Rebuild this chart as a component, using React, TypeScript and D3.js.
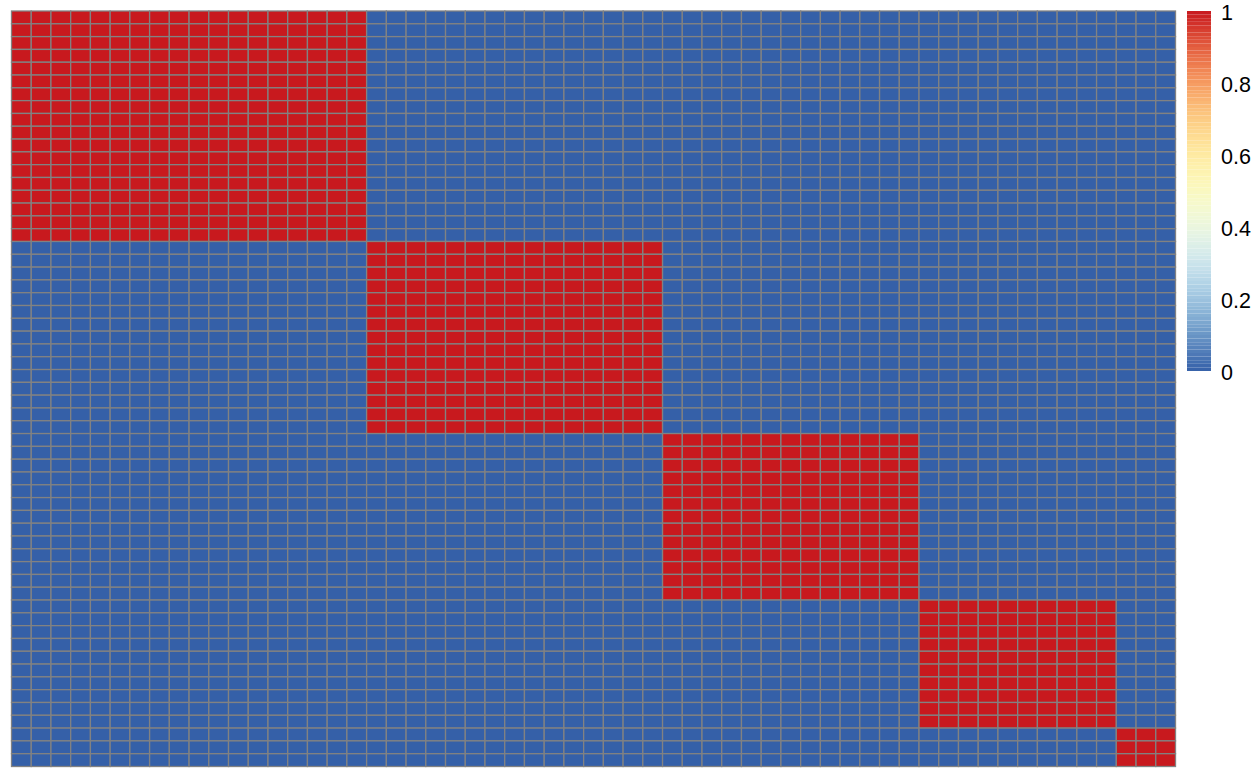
import React from "react";
import * as d3 from "d3";

// Cluster membership of each row / column (value = 1 when row and column share a cluster)
const rowClusters = [
  1,1,1,1,1,1,1,1,1,1,1,1,1,1,1,1,1,1,
  2,2,2,2,2,2,2,2,2,2,2,2,2,2,2,
  3,3,3,3,3,3,3,3,3,3,3,3,3,
  4,4,4,4,4,4,4,4,4,4,
  5,5,5,
];
const colClusters = [
  1,1,1,1,1,1,1,1,1,1,1,1,1,1,1,1,1,1,
  2,2,2,2,2,2,2,2,2,2,2,2,2,2,2,
  3,3,3,3,3,3,3,3,3,3,3,3,3,
  4,4,4,4,4,4,4,4,4,4,
  5,5,5,
];
const legendTicks = [0, 0.2, 0.4, 0.6, 0.8, 1];
const paletteStops = ["#3560A8", "#8DBBDB", "#E0F3F8", "#FFFFBF", "#FEE090", "#F88D55", "#C8191E"];

const W = 1259;
const H = 778;
const plot = { left: 11.5, right: 1175.5, top: 11, bottom: 766.5 };
const legend = { x: 1187, w: 24, top: 11, bottom: 371 };

export default function App() {
  const color = d3.scaleSequential(d3.interpolateRgbBasis(paletteStops)).domain([0, 1]);
  const x = d3
    .scaleBand<number>()
    .domain(d3.range(colClusters.length))
    .range([plot.left, plot.right]);
  const y = d3
    .scaleBand<number>()
    .domain(d3.range(rowClusters.length))
    .range([plot.top, plot.bottom]);
  const ly = d3.scaleLinear().domain([0, 1]).range([legend.bottom, legend.top]);

  const cells: React.ReactNode[] = [];
  rowClusters.forEach((rc, i) => {
    colClusters.forEach((cc, j) => {
      const v = rc === cc ? 1 : 0;
      cells.push(
        <rect
          key={`${i}-${j}`}
          x={x(j)}
          y={y(i)}
          width={x.bandwidth()}
          height={y.bandwidth()}
          fill={color(v)}
          stroke="#828282"
          strokeWidth={1.3}
        />
      );
    });
  });

  const nLeg = 100;
  const legRects = d3.range(nLeg).map((k) => {
    const v0 = k / nLeg;
    const v1 = (k + 1) / nLeg;
    return (
      <rect
        key={k}
        x={legend.x}
        y={ly(v1)}
        width={legend.w}
        height={ly(v0) - ly(v1)}
        fill={color((v0 + v1) / 2)}
      />
    );
  });

  return (
    <svg
      width={W}
      height={H}
      style={{ position: "absolute", left: 0, top: 0, background: "#fff" }}
      fontFamily="Liberation Sans, Arial, sans-serif"
    >
      <g>{cells}</g>
      <g>{legRects}</g>
      <g>
        {legendTicks.map((t) => (
          <text
            key={t}
            x={1221}
            y={ly(t) + 1.5}
            fontSize={21.5}
            dominantBaseline="central"
            fill="#000"
          >
            {String(t)}
          </text>
        ))}
      </g>
    </svg>
  );
}
